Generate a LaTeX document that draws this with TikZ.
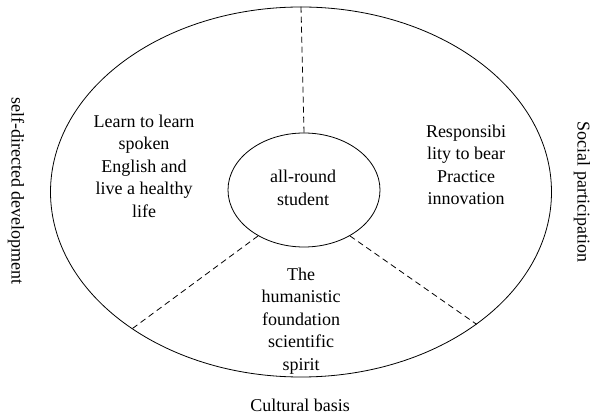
\documentclass[tikz,border=0pt]{standalone}
\usepackage{fontspec}
\setmainfont{Liberation Serif}
\usetikzlibrary{shapes.geometric}
\begin{document}
\begin{tikzpicture}[x=1pt,y=-1pt,
  txt/.style={align=center,inner sep=0pt,font=\fontsize{18}{22.5}\selectfont},
  ring/.style={draw,ellipse,inner sep=0pt,line width=0.8pt},
  divider/.style={draw,dashed,line width=0.8pt,dash pattern=on 6pt off 4pt}]
\useasboundingbox (0,0) rectangle (592,419);
\node[ring,minimum width=501pt,minimum height=370pt] (outer) at (301,192) {};
\node[ring,minimum width=152pt,minimum height=114pt] (inner) at (304,190) {};
\node[txt] (center) at (303,188) {all-round\\student};
\node[txt] (left) at (144,166) {Learn to learn\\spoken\\English and\\live a healthy\\life};
\node[txt] (right) at (466,165) {Responsibi\\lity to bear\\Practice\\innovation};
\node[txt] (bottom) at (301,321) {The\\humanistic\\foundation\\scientific\\spirit};
\node[txt,rotate=-90] (selfdev) at (16,191) {self-directed development};
\node[txt,rotate=-90] (social) at (582,192) {Social participation};
\node[txt] (culture) at (300,405) {Cultural basis};
\path[divider] (inner.north) -- (outer.north);
\path[divider] (inner.225.6) -- (outer.219.5);
\path[divider] (inner.-45) -- (outer.-37.7);
\end{tikzpicture}
\end{document}
